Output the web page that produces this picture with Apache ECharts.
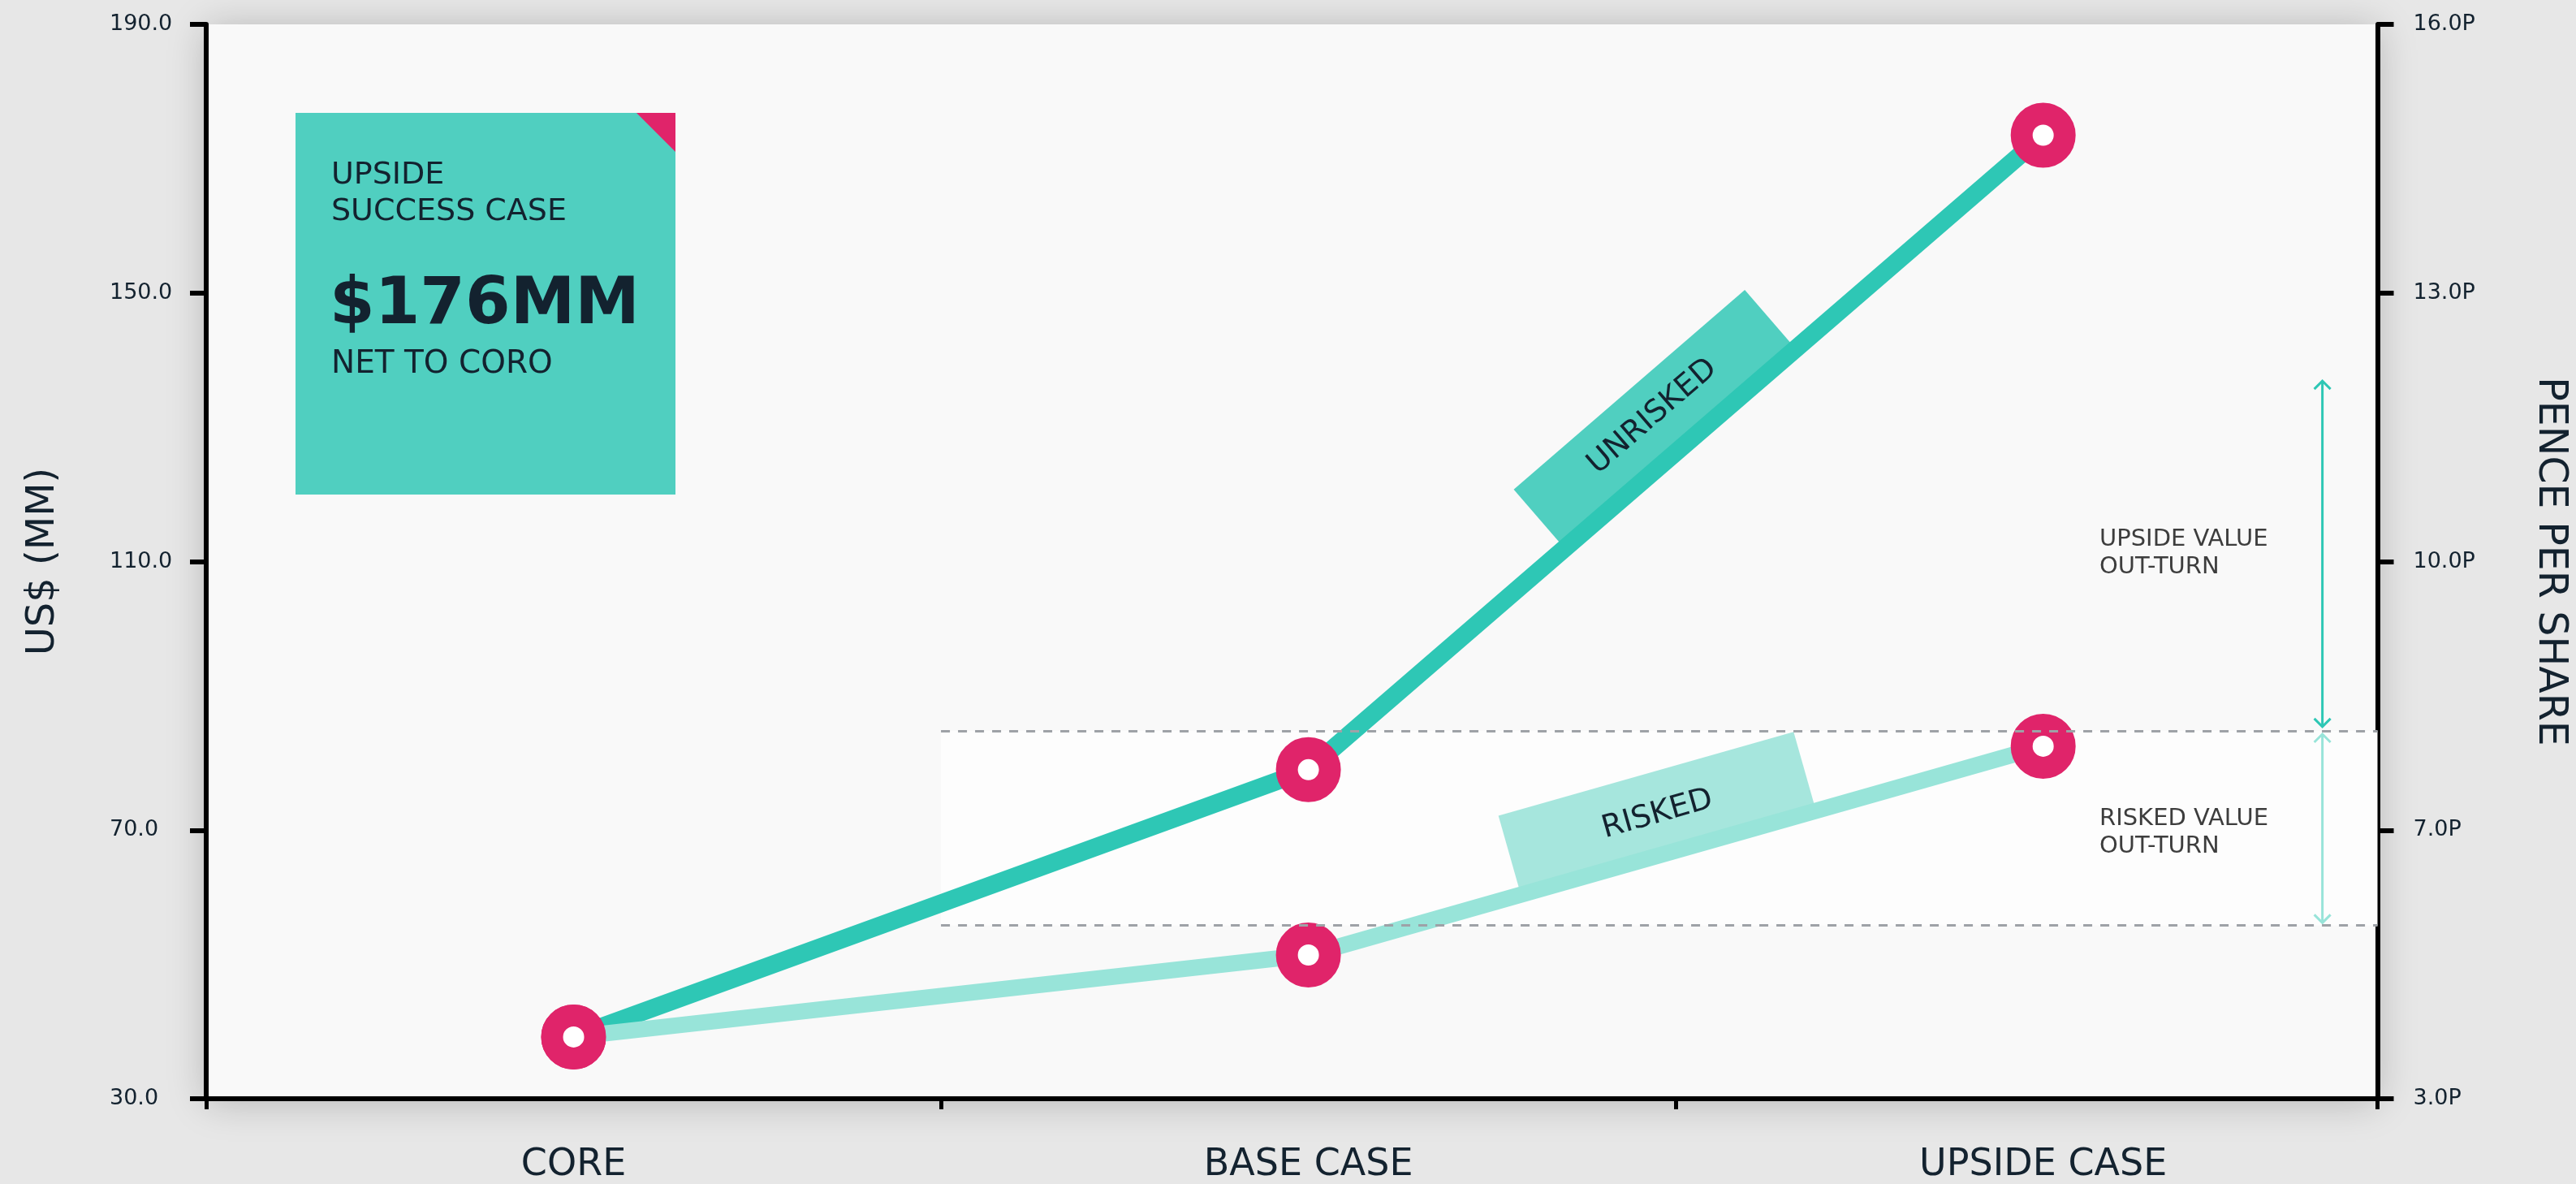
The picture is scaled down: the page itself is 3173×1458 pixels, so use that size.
<!DOCTYPE html>
<html><head><meta charset="utf-8">
<script src="https://cdn.jsdelivr.net/npm/echarts@6/dist/echarts.min.js"></script>
<style>html,body{margin:0;padding:0;background:#e7e7e7;}#c{width:3173px;height:1458px;}</style>
</head><body><div id="c"></div>
<script>
// ---- data ----
const categories = ['CORE', 'BASE CASE', 'UPSIDE CASE'];
const unrisked = [39.2, 79.0, 173.5];
const risked = [39.2, 51.4, 82.5];
const leftTickValues = [30, 70, 110, 150, 190];
const leftTickLabels = ['30.0', '70.0', '110.0', '150.0', '190.0'];
const rightTickLabels = ['3.0P', '7.0P', '10.0P', '13.0P', '16.0P'];
const outTurnBand = [55.8, 84.8];
const upsideArrow = [85.4, 136.9];
const riskedArrow = [56.2, 84.3];
const calloutLines = ['UPSIDE', 'SUCCESS CASE', '$176MM', 'NET TO CORO'];
const annotUpside = ['UPSIDE VALUE', 'OUT-TURN'];
const annotRisked = ['RISKED VALUE', 'OUT-TURN'];

const FONT = '"DejaVu Sans", "Noto Sans", sans-serif';
const INK = '#13222f';
const PINK = '#e0246a';
const TEAL = '#2ec7b5';
const TEAL_LIGHT = '#98e4d9';
const X_MIN = -0.5, X_MAX = 2.455;

const chart = echarts.init(document.getElementById('c'), null, {renderer: 'canvas'});

const yAxisCommon = {
  type: 'value', min: 30, max: 190,
  axisLine: {show: true, onZero: false, lineStyle: {color: '#000', width: 6}},
  axisTick: {show: true, length: 20, lineStyle: {color: '#000', width: 6}, customValues: leftTickValues},
  splitLine: {show: false},
  nameLocation: 'middle'
};

const option = {
  animation: false,
  backgroundColor: '#e7e7e7',
  grid: {
    left: 254, right: 243, top: 30, bottom: 97, show: true,
    backgroundColor: '#f9f9f9', borderWidth: 0,
    shadowBlur: 45, shadowColor: 'rgba(0,0,0,0.22)', shadowOffsetX: 0, shadowOffsetY: 4
  },
  xAxis: {
    type: 'value', min: X_MIN, max: X_MAX,
    axisLine: {show: true, onZero: false, lineStyle: {color: '#000', width: 6}},
    axisTick: {show: true, length: 13, lineStyle: {color: '#000', width: 5}, customValues: [X_MIN, 0.5, 1.5, X_MAX]},
    axisLabel: {
      customValues: [0, 1, 2],
      formatter: v => categories[Math.round(v)],
      color: INK, fontFamily: FONT, fontSize: 46, margin: 82, verticalAlign: 'middle'
    },
    splitLine: {show: false}
  },
  yAxis: [
    Object.assign({}, yAxisCommon, {
      position: 'left',
      name: 'US$ (MM)', nameGap: 200, nameRotate: 90,
      nameTextStyle: {color: INK, fontFamily: FONT, fontSize: 48, verticalAlign: 'middle', align: 'center'},
      axisLabel: {
        customValues: leftTickValues,
        formatter: v => leftTickLabels[leftTickValues.indexOf(v)],
        color: INK, fontFamily: FONT, fontSize: 27, margin: 119, align: 'left'
      }
    }),
    Object.assign({}, yAxisCommon, {
      position: 'right',
      name: 'PENCE PER SHARE', nameGap: 212, nameRotate: -90,
      nameTextStyle: {color: INK, fontFamily: FONT, fontSize: 49, verticalAlign: 'middle', align: 'center'},
      axisLabel: {
        customValues: leftTickValues,
        formatter: v => rightTickLabels[leftTickValues.indexOf(v)],
        color: INK, fontFamily: FONT, fontSize: 27, margin: 44
      }
    })
  ],
  series: [
    {
      name: 'band', type: 'line', data: [], z: 1, silent: true,
      markArea: {
        silent: true, itemStyle: {color: '#fdfdfd'},
        data: [[{coord: [0.5, outTurnBand[0]]}, {coord: [X_MAX, outTurnBand[1]]}]]
      },
      markLine: {
        silent: true, symbol: 'none', label: {show: false},
        lineStyle: {type: [11, 10], color: '#9ea2a7', width: 3},
        data: [
          [{coord: [0.5, outTurnBand[1]]}, {coord: [X_MAX, outTurnBand[1]]}],
          [{coord: [0.5, outTurnBand[0]]}, {coord: [X_MAX, outTurnBand[0]]}]
        ]
      }
    },
    {
      name: 'UNRISKED', type: 'line', z: 3,
      data: categories.map((c, i) => [i, unrisked[i]]),
      lineStyle: {color: TEAL, width: 22},
      symbol: 'circle', symbolSize: 53,
      itemStyle: {color: '#ffffff', borderColor: PINK, borderWidth: 27},
      emphasis: {disabled: true}
    },
    {
      name: 'RISKED', type: 'line', z: 4,
      data: categories.map((c, i) => [i, risked[i]]),
      lineStyle: {color: TEAL_LIGHT, width: 20},
      symbol: 'circle', symbolSize: 53,
      itemStyle: {color: '#ffffff', borderColor: PINK, borderWidth: 27},
      emphasis: {disabled: true}
    }
  ]
};
chart.setOption(option);

function px(x, y) { return chart.convertToPixel({xAxisIndex: 0, yAxisIndex: 0}, [x, y]); }

function tagBox(p1, p2, t, len, h, off, fill, text, fontSize, textDy) {
  const ang = Math.atan2(-(p2[1] - p1[1]), p2[0] - p1[0]);
  const cx = p1[0] + t * (p2[0] - p1[0]);
  const cy = p1[1] + t * (p2[1] - p1[1]);
  return {
    type: 'group', x: cx, y: cy, rotation: ang, z: 2, silent: true,
    children: [
      {type: 'rect', z: 2, shape: {x: -len / 2, y: -off - h, width: len, height: h}, style: {fill: fill}},
      {type: 'text', z: 2, x: 0, y: -off - h / 2 + textDy,
        style: {text: text, fill: INK, fontFamily: FONT, fontSize: fontSize, align: 'center', verticalAlign: 'middle', textAlign: 'center', textVerticalAlign: 'middle'}}
    ]
  };
}

function arrow(xv, yLow, yHigh, color) {
  const a = px(xv, yHigh), b = px(xv, yLow);
  const hw = 10, hh = 10;
  const st = {stroke: color, lineWidth: 3, fill: null};
  return [
    {type: 'line', z: 2, silent: true, shape: {x1: a[0], y1: a[1], x2: b[0], y2: b[1]}, style: st},
    {type: 'polyline', z: 2, silent: true, shape: {points: [[a[0] - hw, a[1] + hh], [a[0], a[1]], [a[0] + hw, a[1] + hh]]}, style: st},
    {type: 'polyline', z: 2, silent: true, shape: {points: [[b[0] - hw, b[1] - hh], [b[0], b[1]], [b[0] + hw, b[1] - hh]]}, style: st}
  ];
}

function txt(x, y, text, size, color, weight) {
  return {type: 'text', z: 6, silent: true, x: x, y: y,
    style: {text: text, fill: color, fontFamily: FONT, fontSize: size, fontWeight: weight || 'normal',
      align: 'left', verticalAlign: 'middle', textAlign: 'left', textVerticalAlign: 'middle'}};
}

const uB = px(1, unrisked[1]), uU = px(2, unrisked[2]);
const rB = px(1, risked[1]), rU = px(2, risked[2]);

const graphics = [
  tagBox(uB, uU, 0.506, 376, 88, 8, '#50cfc0', 'UNRISKED', 38, 0),
  tagBox(rB, rU, 0.49, 378, 92, 9, '#a6e6dd', 'RISKED', 38, 6),
  ...arrow(2.38, upsideArrow[0], upsideArrow[1], TEAL),
  ...arrow(2.38, riskedArrow[0], riskedArrow[1], TEAL_LIGHT),
  txt(2586, 664, annotUpside[0], 29, '#3d3d3d'),
  txt(2586, 698, annotUpside[1], 29, '#3d3d3d'),
  txt(2586, 1008, annotRisked[0], 29, '#3d3d3d'),
  txt(2586, 1042, annotRisked[1], 29, '#3d3d3d'),
  {type: 'rect', z: 5, silent: true, shape: {x: 364, y: 139, width: 468, height: 470}, style: {fill: '#50cfc0'}},
  {type: 'polygon', z: 6, silent: true, shape: {points: [[784, 139], [832, 139], [832, 187]]}, style: {fill: PINK}},
  txt(408, 216, calloutLines[0], 38, INK),
  txt(408, 261, calloutLines[1], 38, INK),
  txt(406, 377, calloutLines[2], 80, INK, 'bold'),
  txt(408, 449, calloutLines[3], 39, INK)
];
chart.setOption({graphic: {elements: graphics}});
</script>
</body></html>
